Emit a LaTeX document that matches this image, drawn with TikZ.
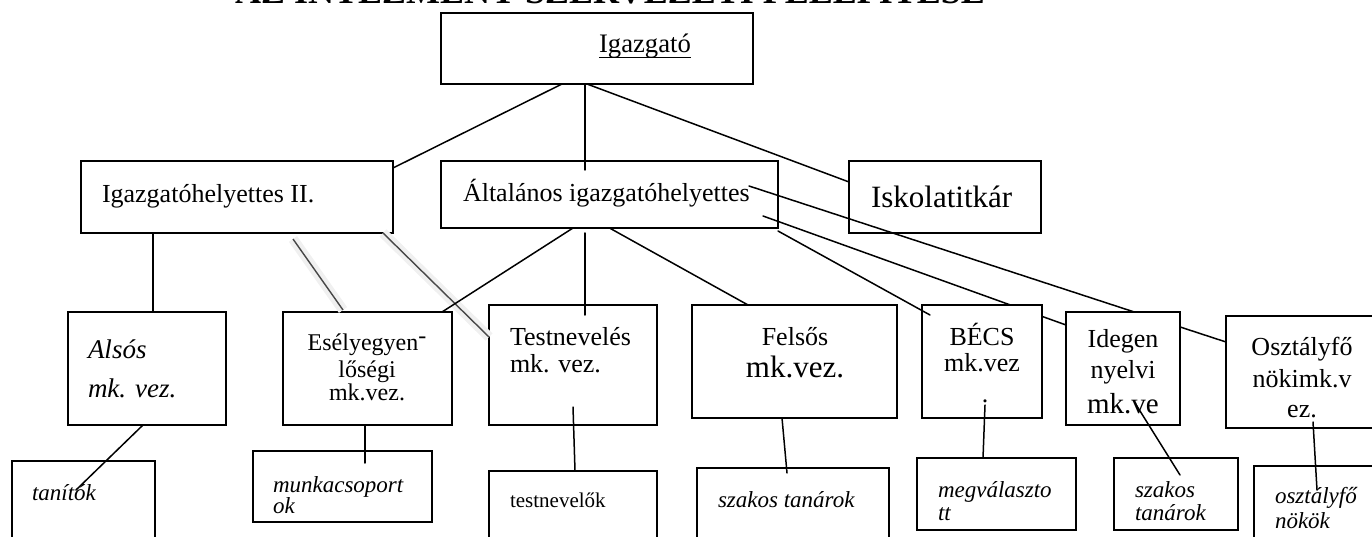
\documentclass[tikz,border=0pt]{standalone}
\usepackage{fontspec}
\setmainfont{Liberation Serif}
\usetikzlibrary{calc}
\pgfdeclarelayer{bg}
\pgfsetlayers{bg,main}
\newcommand\myfs[1]{\fontsize{#1}{#1}\selectfont}
\newcommand\myul[1]{\setbox0\hbox{#1}\rlap{\rule[-5pt]{\wd0}{1.3pt}}#1}
\tikzset{
  box/.style={draw, line width=1.5pt, fill=white, rectangle, inner sep=0pt, outer sep=0pt},
  hbox/.style={box, fill=none},
  conn/.style={line width=1.5pt, line cap=round},
  gline/.style={line width=1.4pt, draw=black!72},
  ghalo/.style={line width=10pt, draw=black!6},
  txt/.style={inner sep=0pt, outer sep=0pt, anchor=base west},
  ctxt/.style={inner sep=0pt, outer sep=0pt, anchor=base},
  up/.style={font=\myfs{26}},
  it/.style={font=\myfs{23}\itshape},
}
\begin{document}
\begin{tikzpicture}[x=1pt,y=-1pt]
\useasboundingbox (0,0) rectangle (1372,537);
% title (mostly cut off at top, as in the reference)
\node[ctxt, font=\myfs{36}\bfseries] (title) at (610,4) {AZ INTÉZMÉNY SZERVEZETI FELÉPÍTÉSE};
% boxes
\node[box, minimum width=312pt, minimum height=71pt] (igaz) at (597,48.5) {};
\node[box, minimum width=312pt, minimum height=72pt] (ih2) at (237,197) {};
\node[hbox, minimum width=337pt, minimum height=67pt] (alt) at (609.5,194.5) {};
\node[hbox, minimum width=192pt, minimum height=72pt] (isk) at (945,197) {};
\node[box, minimum width=158pt, minimum height=113pt] (also) at (147,368.5) {};
\node[box, minimum width=169pt, minimum height=113pt] (esely) at (367.5,368.5) {};
\node[box, minimum width=168pt, minimum height=120pt] (test) at (573,365) {};
\node[box, minimum width=205pt, minimum height=113pt] (fels) at (794.5,361.5) {};
\node[box, minimum width=120pt, minimum height=113pt] (becs) at (982,361.5) {};
\node[box, minimum width=114pt, minimum height=113pt] (ideg) at (1123,368.5) {};
\node[box, minimum width=174pt, minimum height=112pt] (oszt) at (1313,372) {};
\node[box, minimum width=143pt, minimum height=99pt] (tanit) at (83.5,510.5) {};
\node[box, minimum width=179pt, minimum height=71pt] (munka) at (342.5,486.5) {};
\node[box, minimum width=168pt, minimum height=89pt] (testn) at (573,515.5) {};
\node[box, minimum width=192pt, minimum height=92pt] (szak1) at (793,514) {};
\node[box, minimum width=159pt, minimum height=72pt] (megv) at (996.5,494) {};
\node[box, minimum width=124pt, minimum height=72pt] (szak2) at (1176,494) {};
\node[box, minimum width=146pt, minimum height=94pt] (osztn) at (1327,513) {};
% hidden connectors (behind boxes)
\begin{pgfonlayer}{bg}
\draw[conn] ([xshift=-29,yshift=8.5]alt.east) -- ([yshift=30]oszt.west);
\draw[conn] ([xshift=-15,yshift=-21.5]alt.east) -- ([yshift=43.5]ideg.west);
\end{pgfonlayer}
% connectors
\draw[conn] ([xshift=-35]igaz.south) -- ([yshift=29]ih2.east);
\draw[conn] ([xshift=-12]igaz.south) -- ([xshift=-24.5,yshift=-9]alt.north);
\draw[conn] ([xshift=-10]igaz.south) -- ([yshift=15]isk.west);
\draw[conn] ([xshift=-84]ih2.south) -- ([xshift=6]also.north);
\draw[ghalo] ([xshift=56,yshift=-6]ih2.south) -- ([xshift=-24.5,yshift=2]esely.north);
\draw[ghalo] ([xshift=146]ih2.south) -- ([yshift=28]test.west);
\draw[gline] ([xshift=56,yshift=-6]ih2.south) -- ([xshift=-24.5,yshift=2]esely.north);
\draw[gline] ([xshift=146]ih2.south) -- ([yshift=28]test.west);
\draw[conn] ([xshift=-36.5]alt.south) -- ([xshift=-10]esely.north east);
\draw[conn] ([xshift=-24.5,yshift=-5]alt.south) -- ([xshift=12,yshift=-10]test.north);
\draw[conn] (alt.south) -- ([xshift=-46.5]fels.north);
\draw[conn] ([yshift=-3]alt.south east) -- ([xshift=8,yshift=-10]becs.north west);
\draw[conn] ([xshift=-4]also.south) -- ([xshift=-7.5,yshift=-29]tanit.north);
\draw[conn] ([xshift=-2.5]esely.south) -- ([xshift=22.5,yshift=-12]munka.north);
\draw[conn] ([yshift=18]test.south) -- ([xshift=2]testn.north);
\draw[conn] ([xshift=-12.5]fels.south) -- ([xshift=-6,yshift=-5]szak1.north);
\draw[conn] ([xshift=3,yshift=13]becs.south) -- ([xshift=-13.5]megv.north);
\draw[conn] ([xshift=12,yshift=22]ideg.south) -- ([xshift=4,yshift=-17]szak2.north);
\draw[conn] ([yshift=6]oszt.south) -- ([xshift=-10,yshift=-24]osztn.north);
% texts
\node[txt, font=\myfs{26.7}] (t-igaz) at (599,53) {\myul{Igazgató}};
\node[txt, up] (t-ih2) at (102,203) {Igazgatóhelyettes II.};
\node[txt, up] (t-alt) at (463,202) {Általános igazgatóhelyettes};
\node[txt, font=\myfs{31}] (t-isk) at (871,208) {Iskolatitkár};
\node[txt, font=\myfs{27}\itshape] (t-also1) at (88,358) {Alsós};
\node[txt, font=\myfs{27}\itshape] (t-also2) at (88,397) {mk. vez.};
\node[ctxt, font=\myfs{24}] (t-es1) at (367,350) {Esélyegyen\raisebox{.28em}{-}};
\node[ctxt, font=\myfs{24}] (t-es2) at (367,377) {lőségi};
\node[ctxt, font=\myfs{24}] (t-es3) at (367,400) {mk.vez.};
\node[txt, up] (t-te1) at (510,345) {Testnevelés};
\node[txt, up] (t-te2) at (510,372) {mk. vez.};
\node[ctxt, up] (t-fe1) at (795,345) {Felsős};
\node[ctxt, font=\myfs{31}] (t-fe2) at (795,377) {mk.vez.};
\node[ctxt, up] (t-be1) at (982,345) {BÉCS};
\node[ctxt, up] (t-be2) at (982,371) {mk.vez};
\node[ctxt, up] (t-be3) at (985,402) {.};
\node[ctxt, up] (t-id1) at (1123,347) {Idegen};
\node[ctxt, up] (t-id2) at (1123,378) {nyelvi};
\node[ctxt, font=\myfs{29}] (t-id3) at (1123,413) {mk.ve};
\node[ctxt, up] (t-os1) at (1302,355) {Osztályfő};
\node[ctxt, up] (t-os2) at (1302,387) {nökimk.v};
\node[ctxt, up] (t-os3) at (1302,417) {ez.};
\node[txt, it] (t-ta) at (32,500) {tanítók};
\node[txt, it] (t-mu1) at (273,492) {munkacsoport};
\node[txt, it] (t-mu2) at (273,513) {ok};
\node[txt, font=\myfs{21}] (t-tn) at (510,507) {testnevelők};
\node[txt, it] (t-sz1) at (718,507) {szakos tanárok};
\node[txt, it] (t-mv1) at (938,497) {megválaszto};
\node[txt, it] (t-mv2) at (938,520) {tt};
\node[txt, it] (t-sk1) at (1135,497) {szakos};
\node[txt, it] (t-sk2) at (1135,520) {tanárok};
\node[txt, it] (t-on1) at (1275,503) {osztályfő};
\node[txt, it] (t-on2) at (1275,528) {nökök};
\end{tikzpicture}
\end{document}
